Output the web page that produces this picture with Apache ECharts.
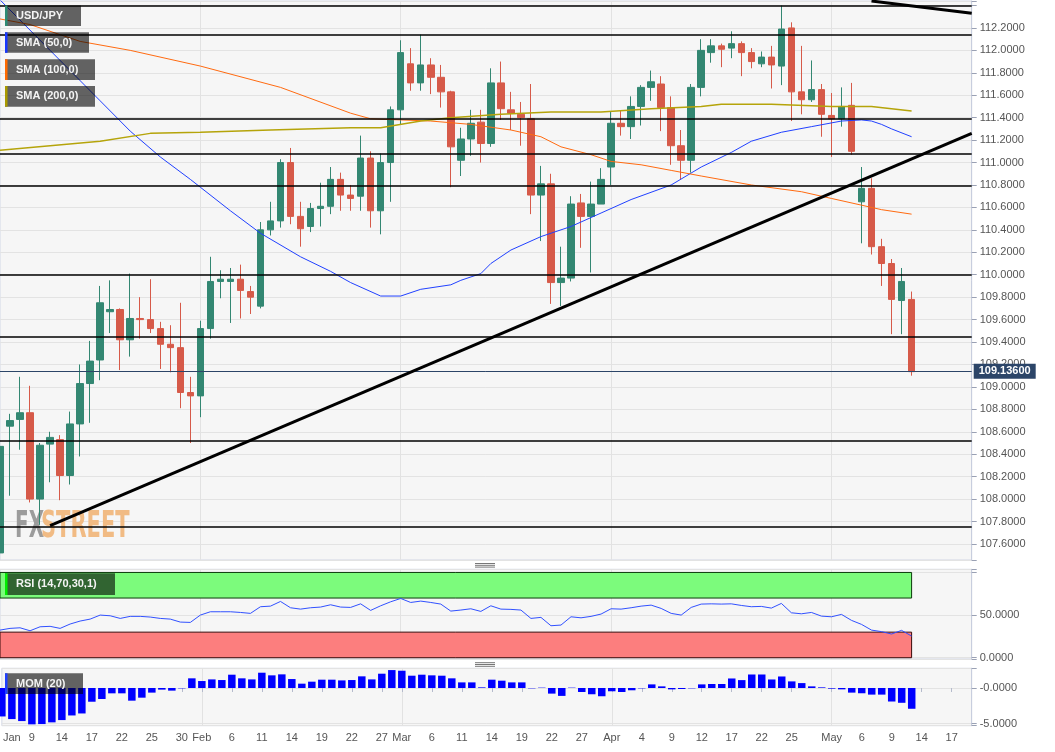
<!DOCTYPE html>
<html>
<head>
<meta charset="utf-8">
<script src="https://cdn.jsdelivr.net/npm/echarts/dist/echarts.min.js"></script>
<style>
html,body{margin:0;padding:0;background:#ffffff;}
#chart{width:1055px;height:752px;}
</style>
</head>
<body>
<div id="chart"></div>
<script>
// ---------------- DATA ----------------
const categories = [
'2019-01-04','2019-01-07','2019-01-08','2019-01-09','2019-01-10','2019-01-11','2019-01-14','2019-01-15','2019-01-16','2019-01-17',
'2019-01-18','2019-01-21','2019-01-22','2019-01-23','2019-01-24','2019-01-25','2019-01-28','2019-01-29','2019-01-30','2019-01-31',
'2019-02-01','2019-02-04','2019-02-05','2019-02-06','2019-02-07','2019-02-08','2019-02-11','2019-02-12','2019-02-13','2019-02-14',
'2019-02-15','2019-02-18','2019-02-19','2019-02-20','2019-02-21','2019-02-22','2019-02-25','2019-02-26','2019-02-27','2019-02-28',
'2019-03-01','2019-03-04','2019-03-05','2019-03-06','2019-03-07','2019-03-08','2019-03-11','2019-03-12','2019-03-13','2019-03-14',
'2019-03-15','2019-03-18','2019-03-19','2019-03-20','2019-03-21','2019-03-22','2019-03-25','2019-03-26','2019-03-27','2019-03-28',
'2019-03-29','2019-04-01','2019-04-02','2019-04-03','2019-04-04','2019-04-05','2019-04-08','2019-04-09','2019-04-10','2019-04-11',
'2019-04-12','2019-04-15','2019-04-16','2019-04-17','2019-04-18','2019-04-19','2019-04-22','2019-04-23','2019-04-24','2019-04-25',
'2019-04-26','2019-04-29','2019-04-30','2019-05-01','2019-05-02','2019-05-03','2019-05-06','2019-05-07','2019-05-08','2019-05-09',
'2019-05-10','2019-05-13','2019-05-14','2019-05-15','2019-05-16','2019-05-17','2019-05-20','2019-05-21'
];

const xLabelDates = ['2019-01-07','2019-01-09','2019-01-14','2019-01-17','2019-01-22','2019-01-25','2019-01-30','2019-02-01','2019-02-06','2019-02-11',
'2019-02-14','2019-02-19','2019-02-22','2019-02-27','2019-03-01','2019-03-06','2019-03-11','2019-03-14','2019-03-19','2019-03-22',
'2019-03-27','2019-04-01','2019-04-04','2019-04-09','2019-04-12','2019-04-17','2019-04-22','2019-04-25','2019-05-01','2019-05-06',
'2019-05-09','2019-05-14','2019-05-17'];
const xLabelTexts = ['Jan','9','14','17','22','25','30','Feb','6','11',
'14','19','22','27','Mar','6','11','14','19','22',
'27','Apr','4','9','12','17','22','25','May','6',
'9','14','17'];
const monthStarts = ['2019-02-01','2019-03-01','2019-04-01','2019-05-01'];

// [open, close, low, high]
const candles = [
[107.52,108.47,107.50,108.60],[108.65,108.70,108.03,108.76],[108.71,108.77,108.44,109.09],[108.77,108.00,107.97,109.01],
[108.00,108.48,107.77,108.50],[108.49,108.55,108.15,108.60],[108.53,108.21,107.99,108.57],[108.21,108.67,108.13,108.78],
[108.67,109.03,108.38,109.20],[109.03,109.23,108.68,109.41],[109.24,109.75,109.06,109.90],[109.67,109.69,109.48,109.95],
[109.69,109.42,109.15,109.70],[109.42,109.61,109.27,110.01],[109.61,109.60,109.43,109.80],[109.60,109.52,109.48,109.96],
[109.52,109.38,109.16,109.58],[109.38,109.35,109.13,109.55],[109.35,108.95,108.81,109.75],[108.95,108.92,108.50,109.09],
[108.92,109.52,108.73,109.59],[109.52,109.94,109.43,110.16],[109.94,109.96,109.79,110.04],[109.94,109.96,109.57,110.06],
[109.96,109.86,109.61,110.09],[109.85,109.80,109.65,109.90],[109.72,110.40,109.70,110.47],[110.40,110.48,110.35,110.65],
[110.48,111.00,110.42,111.03],[111.00,110.52,110.45,111.13],[110.52,110.41,110.25,110.65],[110.43,110.59,110.38,110.64],
[110.59,110.61,110.43,110.82],[110.61,110.85,110.54,110.96],[110.85,110.71,110.57,110.91],[110.71,110.68,110.57,110.80],
[110.70,111.04,110.57,111.24],[111.04,110.57,110.42,111.10],[110.57,111.00,110.36,111.08],[111.00,111.47,110.65,111.50],
[111.47,111.98,111.34,112.09],[111.88,111.71,111.64,112.02],[111.71,111.87,111.64,112.14],[111.87,111.76,111.61,111.93],
[111.76,111.63,111.49,111.87],[111.63,111.14,110.78,111.64],[111.02,111.21,110.88,111.31],[111.21,111.35,111.06,111.47],
[111.36,111.17,111.00,111.47],[111.17,111.71,111.14,111.84],[111.71,111.48,111.38,111.90],[111.47,111.44,111.29,111.63],
[111.43,111.40,111.15,111.54],[111.39,110.71,110.54,111.70],[110.71,110.81,110.30,110.97],[110.81,109.93,109.74,110.90],
[109.93,109.97,109.72,110.25],[109.97,110.63,109.94,110.70],[110.64,110.52,110.24,110.72],[110.52,110.63,110.02,110.83],
[110.63,110.85,110.63,110.95],[110.96,111.35,110.80,111.45],[111.35,111.32,111.24,111.46],[111.32,111.50,111.21,111.59],
[111.50,111.67,111.33,111.69],[111.67,111.72,111.55,111.82],[111.70,111.49,111.28,111.77],[111.49,111.15,110.98,111.59],
[111.15,111.02,110.85,111.29],[111.02,111.67,110.91,111.70],[111.67,112.00,111.59,112.10],[111.98,112.04,111.89,112.10],
[112.04,112.01,111.85,112.06],[112.02,112.06,111.93,112.17],[112.06,111.98,111.77,112.08],[111.98,111.90,111.84,112.02],
[111.88,111.94,111.85,111.99],[111.94,111.87,111.66,112.04],[111.86,112.19,111.69,112.40],[112.20,111.63,111.37,112.25],
[111.63,111.56,111.43,112.04],[111.56,111.65,111.54,111.91],[111.65,111.43,111.23,111.70],[111.42,111.39,111.05,111.62],
[111.39,111.50,111.32,111.67],[111.51,111.10,111.07,111.71],[110.65,110.77,110.28,110.96],[110.77,110.25,110.18,110.86],
[110.25,110.10,109.90,110.32],[110.10,109.78,109.47,110.14],[109.77,109.94,109.47,110.06],[109.78,109.136,109.10,109.85]
];

// moving averages: [category index, value]
const sma50 = [[0,112.45],[5,112.00],[10,111.55],[13,111.28],[16,111.05],[19,110.85],[20,110.78],[23,110.57],[26,110.37],
[30,110.16],[33,110.03],[35,109.93],[38,109.81],[40,109.81],[42,109.87],[45,109.91],[46,109.95],[48,110.01],[49,110.10],
[51,110.22],[54,110.34],[57,110.43],[60,110.55],[63,110.67],[67,110.80],[70,110.96],[73,111.09],[75,111.19],[78,111.27],
[81,111.32],[84,111.37],[86,111.38],[87,111.37],[88,111.34],[89,111.30],[91,111.23]];
const sma100 = [[0,112.28],[3,112.23],[8,112.08],[13,112.00],[20,111.86],[28,111.67],[35,111.44],[37,111.39],[40,111.38],
[43,111.37],[47,111.34],[51,111.29],[54,111.23],[56,111.14],[59,111.07],[61,111.01],[64,110.98],[67,110.93],[70,110.88],
[75,110.80],[80,110.74],[83,110.68],[86,110.62],[88,110.58],[91,110.54]];
const sma200 = [[0,111.11],[10,111.19],[15,111.26],[20,111.27],[27,111.29],[35,111.31],[38,111.31],[42,111.37],[45,111.40],
[50,111.43],[55,111.45],[60,111.45],[65,111.48],[70,111.50],[72,111.52],[77,111.52],[83,111.50],[87,111.50],[91,111.46]];

const rsi = [32.4,34.4,35.1,31.6,36.3,36.8,34.4,39.5,43.0,45.3,50.0,49.2,46.1,48.5,48.5,47.7,46.1,45.3,41.8,41.4,
50.0,53.9,53.9,53.9,53.1,52.0,59.8,60.5,66.0,58.6,57.0,58.6,59.4,62.1,59.4,59.0,63.2,55.5,60.9,65.6,
69.5,64.8,66.4,64.8,62.9,54.7,55.9,57.4,54.3,60.9,57.0,56.7,55.9,46.1,47.3,37.5,38.3,48.0,46.8,48.5,
51.2,57.4,57.0,58.6,60.5,61.7,57.8,52.0,50.0,59.0,62.9,63.2,62.9,63.2,61.3,59.8,60.2,58.2,63.7,52.7,
51.5,53.1,48.8,48.0,50.8,43.8,39.1,32.4,30.6,27.8,32.1,25.4];

const mom = [-4.0,-4.37,-4.65,-5.11,-5.07,-4.83,-4.51,-3.86,-3.58,-1.93,-1.55,-0.75,-0.75,-1.78,-1.36,-0.65,-0.23,-0.37,-0.05,1.36,
0.98,1.21,1.12,1.87,1.36,1.21,2.15,1.78,1.92,1.26,0.61,0.89,1.17,1.17,1.07,1.12,1.64,1.21,2.01,2.52,
2.43,1.73,1.87,1.78,1.73,1.36,0.79,0.79,0.09,1.17,1.03,0.79,0.79,-0.05,0.05,-0.79,-1.11,0.05,-0.56,-0.88,
-1.16,-0.46,-0.56,-0.32,-0.05,0.51,0.23,-0.19,-0.14,-0.05,0.51,0.56,0.56,1.34,1.11,1.90,1.90,1.20,1.62,0.93,
0.69,0.23,0.09,-0.09,-0.19,-0.65,-0.74,-0.93,-0.93,-1.90,-2.08,-2.92];

const levels = [112.40,112.144,111.395,111.083,110.789,110.00,109.45,108.516,107.749];
const lastPrice = 109.136;
const priceLabelRange = [107.6, 112.2];
// trend lines: [[startIndex, value],[endIndex, value]]
const trendLines = [[[5,107.763],[97,111.26]],[[87,112.44],[97,112.331]]];
const rsiBands = [[70,100],[0,30]];

// ---------------- CHART ----------------
const FONT = '"Liberation Sans", Arial, Helvetica, sans-serif';
const AXIS_COL = '#555';
const BORDER = '#d2d7e5';
const labelMap = {};
xLabelDates.forEach((d,i)=>{labelMap[d]=xLabelTexts[i];});
const lastIdx = candles.length - 1;
const cat = i => categories[i];
const pairs = arr => arr.map(p=>[cat(p[0]), p[1]]);

const chart = echarts.init(document.getElementById('chart'), null, {renderer:'canvas'});

function baseX(gi, showLabels){
  return {
    type:'category', gridIndex:gi, data:categories, boundaryGap:false,
    axisLine:{show:false},
    axisTick: showLabels ? {show:true, length:4, interval:(i,v)=>labelMap[v]!==undefined && v!=='2019-01-07', lineStyle:{color:'#b5bbcc'}} : {show:false},
    axisLabel: showLabels ? {show:true, interval:(i,v)=>labelMap[v]!==undefined, formatter:v=>labelMap[v]||'', color:AXIS_COL, fontSize:11, fontFamily:FONT, margin:7} : {show:false},
    splitLine:{show:true, interval:(i,v)=>monthStarts.indexOf(v)>=0, lineStyle:{color:'#e2e2e2', width:1}}
  };
}
function baseY(gi, opts){
  return Object.assign({
    type:'value', gridIndex:gi, position:'right', scale:true,
    axisLine:{show:true, lineStyle:{color:'#c8cede'}},
    axisTick:{show:true, length:5, lineStyle:{color:'#9aa1b4'}},
    splitLine:{show:true, lineStyle:{color:'#e3e3e3', width:1}},
  }, opts);
}
const near = (a,b)=>Math.abs(a-b)<1e-6;

const markLineData = levels.map(v=>({yAxis:v, lineStyle:{color:'#000', width:1.5, type:'solid'}, label:{show:false}}));
markLineData.push({yAxis:lastPrice, lineStyle:{color:'#2c4568', width:1, type:'solid'},
  label:{show:true, position:'end', distance:2, formatter:lastPrice.toFixed(5), color:'#fff', fontWeight:'bold',
  fontSize:11, fontFamily:FONT, backgroundColor:'#2c4568', padding:[2,5,1,5], lineHeight:12}});
trendLines.forEach(t=>{
  markLineData.push([{coord:[cat(t[0][0]), t[0][1]], lineStyle:{color:'#000', width:3, type:'solid'}},
                     {coord:[cat(t[1][0]), t[1][1]]}]);
});

const legendItems = [
  {text:'USD/JPY', accent:'#2e8b74', x:5, y:5.5, w:76, h:20.5},
  {text:'SMA (50,0)', accent:'#1838ff', x:5, y:32.3, w:84, h:20.5},
  {text:'SMA (100,0)', accent:'#ff6a00', x:5, y:59.3, w:90, h:20.7},
  {text:'SMA (200,0)', accent:'#aa9a00', x:5, y:86, w:90, h:20.7},
  {text:'RSI (14,70,30,1)', accent:'#00ee00', x:5, y:573.3, w:110, h:21.7},
  {text:'MOM (20)', accent:'#2040ff', x:5, y:673.3, w:78, h:20.7}
];
const graphics = [];
legendItems.forEach(l=>{
  graphics.push({type:'rect', z:100, silent:true, shape:{x:l.x, y:l.y, width:l.w, height:l.h}, style:{fill:'rgba(0,0,0,0.6)'}});
  graphics.push({type:'rect', z:101, silent:true, shape:{x:l.x, y:l.y, width:2.5, height:l.h}, style:{fill:l.accent}});
  graphics.push({type:'text', z:101, silent:true, x:l.x+11, y:l.y+l.h/2,
    style:{text:l.text, fill:'#f4f4f4', font:'bold 11px '+FONT, verticalAlign:'middle', textVerticalAlign:'middle'}});
});
// watermark
graphics.push({type:'text', z:1, silent:true, x:15, y:527, scaleX:0.6,
  style:{text:'FX', fill:'#9c9c9c', font:'bold 37px "Liberation Sans Narrow", "DejaVu Sans Condensed", '+FONT, verticalAlign:'middle', textVerticalAlign:'middle'}});
graphics.push({type:'text', z:1, silent:true, x:41, y:527, scaleX:0.63,
  style:{text:'STREET', fill:'#f1bb84', font:'bold 37px "Liberation Sans Narrow", "DejaVu Sans Condensed", '+FONT, verticalAlign:'middle', textVerticalAlign:'middle'}});
// panel dividers
[563.5,565.3,567.1, 662.7,664.5,666.3].forEach(y=>{
  graphics.push({type:'line', z:50, silent:true, shape:{x1:475, y1:y, x2:495, y2:y}, style:{stroke:'#777', lineWidth:1}});
});

const option = {
  animation:false,
  backgroundColor:'#ffffff',
  textStyle:{fontFamily:FONT},
  grid:[
    {left:0, right:83.3, top:1, height:559, show:true, backgroundColor:'#f6f6f6', borderColor:BORDER, borderWidth:1},
    {left:0, right:83.3, top:569.3, height:89.7, show:true, backgroundColor:'#f6f6f6', borderColor:BORDER, borderWidth:1},
    {left:0, right:83.3, top:668.3, height:57.4, show:true, backgroundColor:'#f6f6f6', borderColor:BORDER, borderWidth:1}
  ],
  xAxis:[ baseX(0,false), baseX(1,false), baseX(2,true) ],
  yAxis:[
    baseY(0,{min:107.457, max:112.44, splitNumber:25,
      axisLabel:{color:AXIS_COL, fontSize:11, fontFamily:FONT, margin:8,
        formatter:v=>{const k=v/0.2; return (Math.abs(k-Math.round(k))<1e-6 && v>=priceLabelRange[0]-1e-6 && v<=priceLabelRange[1]+1e-6) ? v.toFixed(4) : '';}}}),
    baseY(1,{min:-1.5, max:103.7, splitNumber:2,
      axisLabel:{color:AXIS_COL, fontSize:11, fontFamily:FONT, margin:8,
        formatter:v=>(near(v,0)||near(v,50)) ? v.toFixed(4) : ''}}),
    baseY(2,{min:-5.3, max:2.77, splitNumber:2,
      axisLabel:{color:AXIS_COL, fontSize:11, fontFamily:FONT, margin:8,
        formatter:v=> near(v,0) ? '-0.0000' : (near(v,-5) ? '-5.0000' : '')}})
  ],
  series:[
    {type:'candlestick', name:'USD/JPY', xAxisIndex:0, yAxisIndex:0, data:candles, barWidth:7, clip:true, z:3,
      itemStyle:{color:'#338772', color0:'#d65a49', borderColor:'#338772', borderColor0:'#d65a49', borderWidth:1},
      markLine:{silent:true, symbol:['none','none'], animation:false, data:markLineData}
    },
    {type:'line', name:'SMA (50,0)', xAxisIndex:0, yAxisIndex:0, data:pairs(sma50), showSymbol:false, z:4,
      lineStyle:{color:'#2040ff', width:1}},
    {type:'line', name:'SMA (100,0)', xAxisIndex:0, yAxisIndex:0, data:pairs(sma100), showSymbol:false, z:4,
      lineStyle:{color:'#ff6a10', width:1}},
    {type:'line', name:'SMA (200,0)', xAxisIndex:0, yAxisIndex:0, data:pairs(sma200), showSymbol:false, z:4,
      lineStyle:{color:'#b5a40a', width:1.5}},
    {type:'line', name:'bands', xAxisIndex:1, yAxisIndex:1, data:[], z:1, silent:true,
      markArea:{silent:true, data:[
        [{coord:[cat(0), rsiBands[0][0]], itemStyle:{color:'#7cfb7c', borderColor:'#0b3a0b', borderWidth:1}}, {coord:[cat(lastIdx), rsiBands[0][1]]}],
        [{coord:[cat(0), rsiBands[1][0]], itemStyle:{color:'#fc7e7e', borderColor:'#3a0a0a', borderWidth:1}}, {coord:[cat(lastIdx), rsiBands[1][1]]}]
      ]}
    },
    {type:'line', name:'RSI', xAxisIndex:1, yAxisIndex:1, data:rsi, showSymbol:false, z:4,
      lineStyle:{color:'#3050ff', width:1}},
    {type:'bar', name:'MOM', xAxisIndex:2, yAxisIndex:2, data:mom, barWidth:7.5, z:3,
      itemStyle:{color:'#0000ff'}}
  ],
  graphic:graphics
};
chart.setOption(option);
</script>
</body>
</html>
